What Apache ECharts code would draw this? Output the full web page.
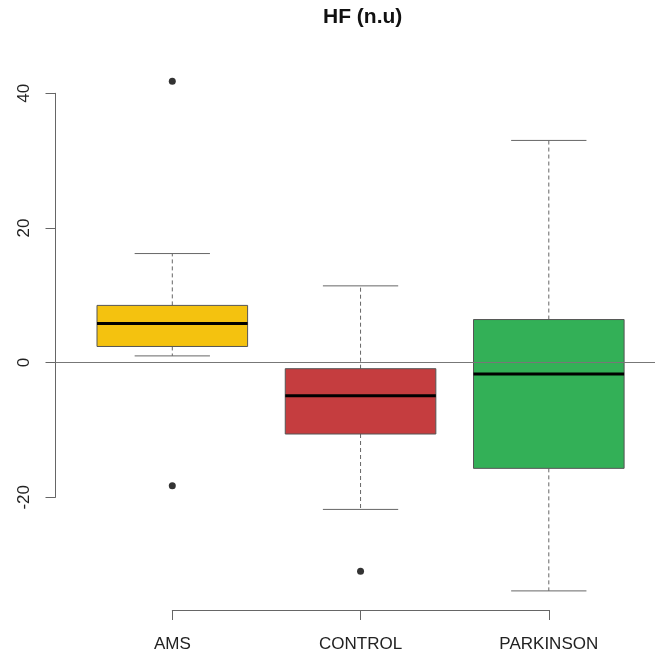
<!DOCTYPE html>
<html>
<head>
<meta charset="utf-8">
<script src="https://cdn.jsdelivr.net/npm/echarts@6/dist/echarts.min.js"></script>
<style>
  html, body { margin: 0; padding: 0; background: #fff; }
  #chart { width: 655px; height: 654px; }
</style>
</head>
<body>
<div id="chart"></div>
<script>
// HF (n.u) by group: five-number summaries plus outlying points
const categories = ['AMS', 'CONTROL', 'PARKINSON'];
const whiskerLow  = [1.0, -21.8, -33.9];
const quartile1   = [2.4, -10.6, -15.7];
const medians     = [5.8, -4.9, -1.7];
const quartile3   = [8.5, -0.9, 6.4];
const whiskerHigh = [16.2, 11.4, 33.0];
const outlierGroup = [0, 0, 1];
const outlierValue = [41.8, -18.3, -31.0];
const yTicks = [-20, 0, 20, 40];
const boxColors = ['#F4C20F', '#C53D3F', '#33B057'];

const FONT = '"Liberation Sans", Arial, Helvetica, sans-serif';
const LINE = '#666';

const boxData = categories.map((c, i) =>
  [i, whiskerLow[i], quartile1[i], medians[i], quartile3[i], whiskerHigh[i]]);
const outlierData = outlierGroup.map((g, i) => [g, outlierValue[i]]);

function renderBox(params, api) {
  const x = api.value(0);
  const pt = v => api.coord([x, v]);
  const cx = pt(api.value(3))[0];
  const yLo = pt(api.value(1))[1];
  const yQ1 = pt(api.value(2))[1];
  const yMed = pt(api.value(3))[1];
  const yQ3 = pt(api.value(4))[1];
  const yHi = pt(api.value(5))[1];
  const band = api.size([1, 0])[0];
  const boxW = band * 0.8;
  const capW = boxW / 2;
  const dash = { stroke: LINE, lineWidth: 1, lineDash: [4, 3] };
  const solid = { stroke: LINE, lineWidth: 1 };
  return {
    type: 'group',
    children: [
      { type: 'line', shape: { x1: cx, y1: yQ3, x2: cx, y2: yHi }, style: dash },
      { type: 'line', shape: { x1: cx, y1: yQ1, x2: cx, y2: yLo }, style: dash },
      { type: 'line', shape: { x1: cx - capW / 2, y1: yHi, x2: cx + capW / 2, y2: yHi }, style: solid },
      { type: 'line', shape: { x1: cx - capW / 2, y1: yLo, x2: cx + capW / 2, y2: yLo }, style: solid },
      { type: 'rect', shape: { x: cx - boxW / 2, y: yQ3, width: boxW, height: yQ1 - yQ3 },
        style: { fill: boxColors[params.dataIndex], stroke: '#555', lineWidth: 1 } },
      { type: 'line', shape: { x1: cx - boxW / 2, y1: yMed, x2: cx + boxW / 2, y2: yMed },
        style: { stroke: '#000', lineWidth: 3 } }
    ]
  };
}

const chart = echarts.init(document.getElementById('chart'), null, { renderer: 'canvas' });
chart.setOption({
  backgroundColor: '#fff',
  animation: false,
  title: {
    text: 'HF (n.u)',
    left: 318,
    top: 2,
    textStyle: { fontFamily: FONT, fontSize: 21, fontWeight: 'bold', color: '#111' }
  },
  grid: [
    { left: 172.3, right: 106.2, top: 93.3, bottom: 156.7 },
    { left: 55.5, right: -30, top: 93.3, bottom: 156.7 }
  ],
  xAxis: [
    {
      gridIndex: 0,
      type: 'category',
      data: categories,
      boundaryGap: false,
      position: 'bottom',
      offset: 112.7,
      axisLine: { show: true, onZero: false, lineStyle: { color: LINE, width: 1 } },
      axisTick: { show: true, length: 10, lineStyle: { color: LINE } },
      axisLabel: { margin: 26, fontFamily: FONT, fontSize: 17, color: '#222' },
      splitLine: { show: false }
    },
    { gridIndex: 1, type: 'value', min: 0, max: 1, show: false }
  ],
  yAxis: [
    {
      gridIndex: 0,
      type: 'value',
      min: yTicks[0],
      max: yTicks[yTicks.length - 1],
      interval: 20,
      offset: 116.8,
      axisLine: { show: true, onZero: false, lineStyle: { color: LINE, width: 1 } },
      axisTick: { show: true, length: 10, lineStyle: { color: LINE } },
      axisLabel: { margin: 23, rotate: 90, fontFamily: FONT, fontSize: 17, color: '#222' },
      splitLine: { show: false }
    },
    { gridIndex: 1, type: 'value', min: yTicks[0], max: yTicks[yTicks.length - 1], show: false }
  ],
  series: [
    {
      type: 'custom',
      xAxisIndex: 0,
      yAxisIndex: 0,
      clip: false,
      renderItem: renderBox,
      encode: { x: 0, y: [1, 2, 3, 4, 5] },
      data: boxData,
      z: 2
    },
    {
      type: 'scatter',
      xAxisIndex: 0,
      yAxisIndex: 0,
      clip: false,
      symbol: 'circle',
      symbolSize: 7,
      itemStyle: { color: '#000' },
      data: outlierData,
      z: 3
    },
    {
      // horizontal reference line at zero across the plotting region
      type: 'line',
      xAxisIndex: 1,
      yAxisIndex: 1,
      data: [],
      z: 5,
      markLine: {
        silent: true,
        symbol: 'none',
        label: { show: false },
        lineStyle: { color: '#777', width: 1.2, type: 'solid' },
        data: [{ yAxis: 0 }]
      }
    }
  ]
});
</script>
</body>
</html>
